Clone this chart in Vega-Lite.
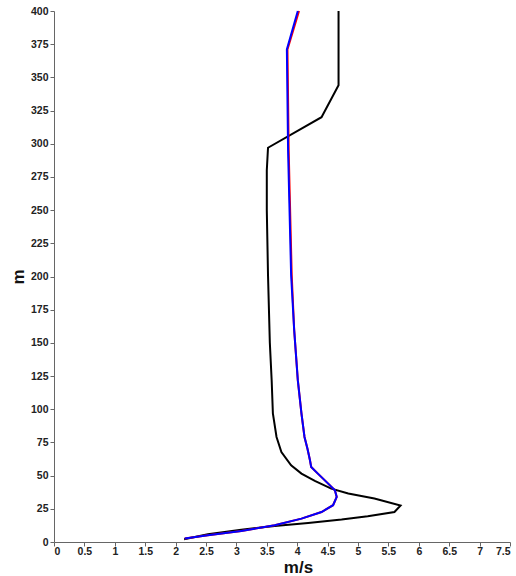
{
  "$schema": "https://vega.github.io/schema/vega-lite/v6.json",
  "autosize": {"type": "none"},
  "width": 456,
  "height": 531,
  "padding": {"left": 54, "top": 11, "right": 6, "bottom": 34},
  "background": "white",
  "config": {
    "view": {"stroke": null},
    "axis": {
      "grid": false,
      "domainColor": "#666",
      "tickColor": "#666",
      "tickSize": 4,
      "labelFont": "Liberation Sans",
      "labelFontWeight": "bold",
      "labelFontSize": 10.5,
      "labelColor": "#222",
      "titleFont": "Liberation Sans",
      "titleFontWeight": "bold",
      "titleFontSize": 17,
      "titleColor": "#111"
    }
  },
  "data": {
    "values": [
      {"s": "black", "v": 2.14, "h": 2},
      {"s": "black", "v": 2.53, "h": 5.8},
      {"s": "black", "v": 3.08, "h": 9.3},
      {"s": "black", "v": 3.63, "h": 12.1},
      {"s": "black", "v": 4.18, "h": 14.3},
      {"s": "black", "v": 4.73, "h": 16.9},
      {"s": "black", "v": 5.16, "h": 19.4},
      {"s": "black", "v": 5.6, "h": 22.6},
      {"s": "black", "v": 5.7, "h": 27.5},
      {"s": "black", "v": 5.27, "h": 32.7},
      {"s": "black", "v": 4.84, "h": 36.5},
      {"s": "black", "v": 4.56, "h": 40.2},
      {"s": "black", "v": 4.29, "h": 46},
      {"s": "black", "v": 4.07, "h": 51.5},
      {"s": "black", "v": 3.9, "h": 57.8},
      {"s": "black", "v": 3.74, "h": 67.8},
      {"s": "black", "v": 3.66, "h": 79.1},
      {"s": "black", "v": 3.6, "h": 96.8},
      {"s": "black", "v": 3.58, "h": 121.9},
      {"s": "black", "v": 3.55, "h": 150},
      {"s": "black", "v": 3.52, "h": 201},
      {"s": "black", "v": 3.5, "h": 250},
      {"s": "black", "v": 3.5, "h": 280},
      {"s": "black", "v": 3.52, "h": 297},
      {"s": "black", "v": 4.4, "h": 320},
      {"s": "black", "v": 4.68, "h": 344},
      {"s": "black", "v": 4.68, "h": 400},
      {"s": "red", "v": 2.15, "h": 2.6},
      {"s": "red", "v": 2.53, "h": 5},
      {"s": "red", "v": 3.08, "h": 8.3},
      {"s": "red", "v": 3.63, "h": 12.6},
      {"s": "red", "v": 4.07, "h": 17.6},
      {"s": "red", "v": 4.4, "h": 22.6},
      {"s": "red", "v": 4.59, "h": 27.7},
      {"s": "red", "v": 4.65, "h": 33.9},
      {"s": "red", "v": 4.62, "h": 39},
      {"s": "red", "v": 4.51, "h": 44},
      {"s": "red", "v": 4.34, "h": 51.5},
      {"s": "red", "v": 4.23, "h": 56.5},
      {"s": "red", "v": 4.21, "h": 61.6},
      {"s": "red", "v": 4.17, "h": 70},
      {"s": "red", "v": 4.12, "h": 79.1},
      {"s": "red", "v": 4.07, "h": 96.8},
      {"s": "red", "v": 4.01, "h": 121.9},
      {"s": "red", "v": 3.95, "h": 160},
      {"s": "red", "v": 3.91, "h": 201},
      {"s": "red", "v": 3.88, "h": 257},
      {"s": "red", "v": 3.86, "h": 295},
      {"s": "red", "v": 3.84, "h": 371},
      {"s": "red", "v": 4.03, "h": 400},
      {"s": "blue", "v": 2.15, "h": 2.6},
      {"s": "blue", "v": 2.53, "h": 5},
      {"s": "blue", "v": 3.08, "h": 8.3},
      {"s": "blue", "v": 3.63, "h": 12.6},
      {"s": "blue", "v": 4.07, "h": 17.6},
      {"s": "blue", "v": 4.4, "h": 22.6},
      {"s": "blue", "v": 4.59, "h": 27.7},
      {"s": "blue", "v": 4.65, "h": 33.9},
      {"s": "blue", "v": 4.62, "h": 39},
      {"s": "blue", "v": 4.51, "h": 44},
      {"s": "blue", "v": 4.34, "h": 51.5},
      {"s": "blue", "v": 4.23, "h": 56.5},
      {"s": "blue", "v": 4.21, "h": 61.6},
      {"s": "blue", "v": 4.17, "h": 70},
      {"s": "blue", "v": 4.12, "h": 79.1},
      {"s": "blue", "v": 4.07, "h": 96.8},
      {"s": "blue", "v": 4.01, "h": 121.9},
      {"s": "blue", "v": 3.95, "h": 160},
      {"s": "blue", "v": 3.9, "h": 201},
      {"s": "blue", "v": 3.87, "h": 257},
      {"s": "blue", "v": 3.85, "h": 295},
      {"s": "blue", "v": 3.83, "h": 371},
      {"s": "blue", "v": 4.01, "h": 400}
    ]
  },
  "encoding": {
    "x": {
      "field": "v", "type": "quantitative",
      "scale": {"domain": [0, 7.5], "nice": false},
      "axis": {
        "title": "m/s",
        "values": [0, 0.5, 1, 1.5, 2, 2.5, 3, 3.5, 4, 4.5, 5, 5.5, 6, 6.5, 7, 7.5],
        "format": "~f",
        "labelPadding": 0,
        "titleX": 244,
        "titleY": 30,
        "titleBaseline": "alphabetic"
      }
    },
    "y": {
      "field": "h", "type": "quantitative",
      "scale": {"domain": [0, 400], "nice": false},
      "axis": {
        "title": "m",
        "values": [0, 25, 50, 75, 100, 125, 150, 175, 200, 225, 250, 275, 300, 325, 350, 375, 400],
        "labelPadding": 2,
        "titlePadding": 3
      }
    },
    "order": {"field": "h", "type": "quantitative"}
  },
  "layer": [
    {"transform": [{"filter": "datum.s === 'black'"}], "mark": {"type": "line", "color": "black", "strokeWidth": 2}},
    {"transform": [{"filter": "datum.s === 'red'"}], "mark": {"type": "line", "color": "red", "strokeWidth": 2}},
    {"transform": [{"filter": "datum.s === 'blue'"}], "mark": {"type": "line", "color": "blue", "strokeWidth": 2}}
  ]
}
